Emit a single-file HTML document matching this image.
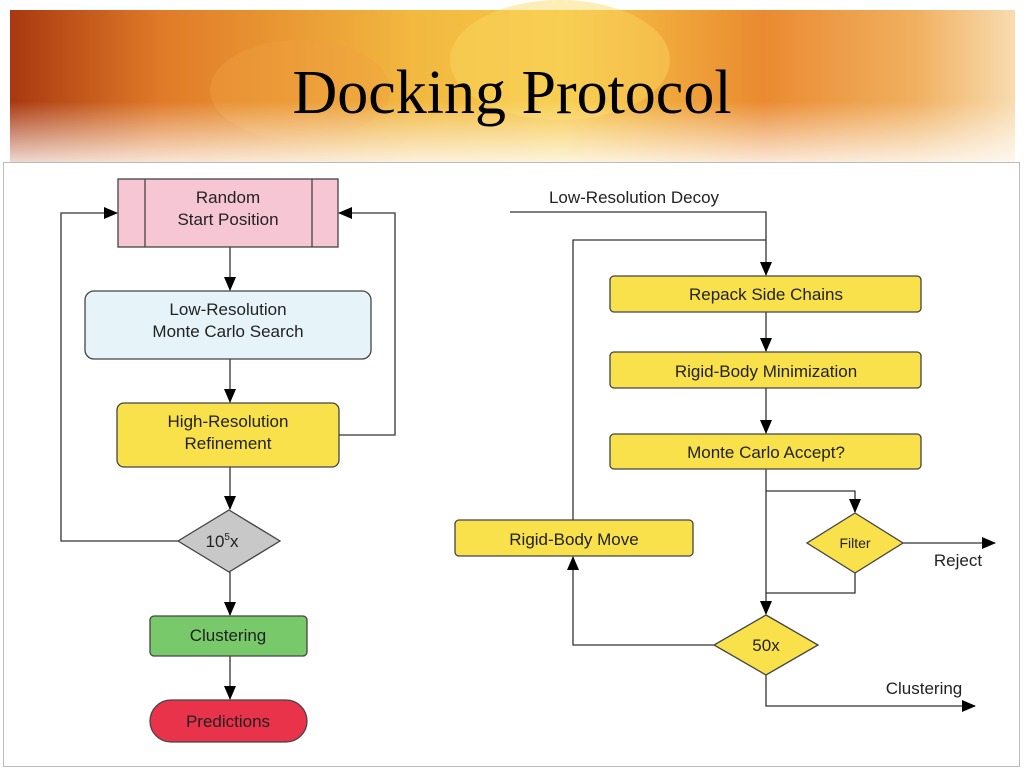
<!DOCTYPE html>
<html><head><style>
body{margin:0;width:1024px;height:768px;overflow:hidden;background:#fff;}
</style></head><body>
<svg width="1024" height="768" viewBox="0 0 1024 768" xmlns="http://www.w3.org/2000/svg" font-family="Liberation Sans, sans-serif">
<defs>
<linearGradient id="bg" x1="0" y1="0" x2="1" y2="0">
<stop offset="0" stop-color="#a83810"/><stop offset="0.15" stop-color="#e07a28"/><stop offset="0.4" stop-color="#f2b840"/><stop offset="0.55" stop-color="#f6c848"/><stop offset="0.75" stop-color="#ea8a30"/><stop offset="0.9" stop-color="#f0b060"/><stop offset="1" stop-color="#f8dcb0"/>
</linearGradient>
<linearGradient id="fade" x1="0" y1="0" x2="0" y2="1">
<stop offset="0.6" stop-color="#fff" stop-opacity="0"/><stop offset="1" stop-color="#fff" stop-opacity="0.8"/>
</linearGradient>
<marker id="a" markerWidth="14" markerHeight="12" refX="13" refY="6" orient="auto" markerUnits="userSpaceOnUse"><path d="M0,0 L14,6 L0,12 z" fill="#000"/></marker>
</defs>
<rect x="10" y="10" width="1005" height="152" fill="url(#bg)"/>
<ellipse cx="560" cy="60" rx="110" ry="60" fill="#fbd860" opacity="0.45"/>
<ellipse cx="300" cy="90" rx="90" ry="50" fill="#f0a040" opacity="0.4"/>
<rect x="10" y="10" width="1005" height="152" fill="url(#fade)"/>
<text x="512" y="113" text-anchor="middle" font-family="Liberation Serif, serif" font-size="62">Docking Protocol</text>
<rect x="3.5" y="162.5" width="1016" height="604" fill="#fff" stroke="#bbb"/>

<g stroke="#333" stroke-width="1.3" fill="none">
<line x1="230" y1="247" x2="230" y2="290" marker-end="url(#a)"/>
<line x1="230" y1="359" x2="230" y2="402" marker-end="url(#a)"/>
<line x1="230" y1="467" x2="230" y2="509" marker-end="url(#a)"/>
<line x1="230" y1="572" x2="230" y2="615" marker-end="url(#a)"/>
<line x1="230" y1="656" x2="230" y2="699" marker-end="url(#a)"/>
<polyline points="178,541 61,541 61,213 117,213" marker-end="url(#a)"/>
<polyline points="339,435 395,435 395,213 339,213" marker-end="url(#a)"/>
<polyline points="510,212 766,212 766,275" marker-end="url(#a)"/>
<polyline points="573,520 573,240 766,240"/>
<line x1="766" y1="312" x2="766" y2="351" marker-end="url(#a)"/>
<line x1="766" y1="388" x2="766" y2="433" marker-end="url(#a)"/>
<line x1="766" y1="469" x2="766" y2="614" marker-end="url(#a)"/>
<polyline points="766,491 855,491 855,512" marker-end="url(#a)"/>
<line x1="903" y1="543" x2="995" y2="543" marker-end="url(#a)"/>
<polyline points="855,573 855,593 766,593"/>
<polyline points="714,645 573,645 573,557" marker-end="url(#a)"/>
<polyline points="766,675 766,706 975,706" marker-end="url(#a)"/>
</g>

<g stroke="#444" stroke-width="1.3">
<rect x="118" y="179" width="220" height="68" fill="#f7c6d5"/>
<line x1="145" y1="179" x2="145" y2="247"/><line x1="312" y1="179" x2="312" y2="247"/>
<rect x="85" y="291" width="286" height="68" rx="9" fill="#e6f4f9"/>
<rect x="117" y="403" width="222" height="64" rx="7" fill="#f8e14a"/>
<polygon points="229,510 280,541 229,572 178,541" fill="#c8c8c8"/>
<rect x="150" y="616" width="157" height="40" rx="4" fill="#77c96a"/>
<rect x="150" y="700" width="157" height="42" rx="21" fill="#e8334a"/>
<rect x="610" y="276" width="311" height="36" rx="4" fill="#f8e14a"/>
<rect x="610" y="352" width="311" height="36" rx="4" fill="#f8e14a"/>
<rect x="610" y="434" width="311" height="35" rx="4" fill="#f8e14a"/>
<rect x="455" y="520" width="238" height="36" rx="4" fill="#f8e14a"/>
<polygon points="855,513 903,543 855,573 807,543" fill="#f8e14a"/>
<polygon points="766,615 818,645 766,675 714,645" fill="#f8e14a"/>
</g>

<g font-size="17" fill="#222" text-anchor="middle">
<text x="228" y="203">Random</text>
<text x="228" y="225">Start Position</text>
<text x="228" y="315">Low-Resolution</text>
<text x="228" y="337">Monte Carlo Search</text>
<text x="228" y="427">High-Resolution</text>
<text x="228" y="449">Refinement</text>
<text x="222" y="547">10<tspan font-size="10" dy="-7">5</tspan><tspan dy="7">x</tspan></text>
<text x="228" y="641">Clustering</text>
<text x="228" y="727">Predictions</text>
<text x="766" y="300">Repack Side Chains</text>
<text x="766" y="377">Rigid-Body Minimization</text>
<text x="766" y="458">Monte Carlo Accept?</text>
<text x="574" y="545">Rigid-Body Move</text>
<text x="855" y="548" font-size="14">Filter</text>
<text x="766" y="651">50x</text>
<text x="634" y="203">Low-Resolution Decoy</text>
<text x="958" y="566">Reject</text>
<text x="924" y="694">Clustering</text>
</g>
</svg>
</body></html>
